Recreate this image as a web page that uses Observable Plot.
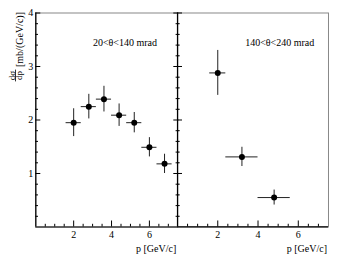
<!DOCTYPE html>
<html>
<head>
<meta charset="utf-8">
<script src="https://cdn.jsdelivr.net/npm/d3@7"></script>
<script src="https://cdn.jsdelivr.net/npm/@observablehq/plot@0.6"></script>
<style>
  html, body { margin: 0; padding: 0; background: #fff; }
  #chart { position: relative; width: 339px; height: 254px; background: #fff; }
  #chart svg { position: absolute; top: 0; }
</style>
</head>
<body>
<div id="chart"></div>
<script>
// Panels
const panels = ["20<θ<140 mrad", "140<θ<240 mrad"];

// Panel 1: 20<θ<140 mrad
const p1 = [2.0, 2.8, 3.6, 4.4, 5.2, 6.0, 6.8];
const pErr1 = [0.4, 0.4, 0.4, 0.4, 0.4, 0.4, 0.4];
const sigma1 = [1.95, 2.25, 2.39, 2.09, 1.95, 1.49, 1.18];
const sigmaErr1 = [0.26, 0.23, 0.24, 0.21, 0.19, 0.18, 0.18];

// Panel 2: 140<θ<240 mrad
const p2 = [2.0, 3.2, 4.8];
const pErr2 = [0.4, 0.8, 0.8];
const sigma2 = [2.88, 1.31, 0.55];
const sigmaErr2 = [0.42, 0.18, 0.14];

// Ticks
const xMajor = [2, 4, 6];
const xMinor = [0.5, 1, 1.5, 2.5, 3, 3.5, 4.5, 5, 5.5, 6.5, 7];
const yMajor = [1, 2, 3, 4];
const yMinor = [0.2, 0.4, 0.6, 0.8, 1.2, 1.4, 1.6, 1.8, 2.2, 2.4, 2.6, 2.8, 3.2, 3.4, 3.6, 3.8];

const xLabel = "p [GeV/c]";
const yLabelNum = "dσ";
const yLabelDen = "dp";
const yLabelUnit = "[mb/(GeV/c)]";

const rows1 = p1.map((p, i) => ({p, ep: pErr1[i], s: sigma1[i], es: sigmaErr1[i]}));
const rows2 = p2.map((p, i) => ({p, ep: pErr2[i], s: sigma2[i], es: sigmaErr2[i]}));

const fracBar = {draw(ctx, l) { ctx.moveTo(0, 0); ctx.lineTo(0, -l); }};
const font = "'Liberation Serif', 'Times New Roman', serif";

function panelMarks(rows, label, labelDx) {
  return [
    Plot.frame({stroke: "#888", strokeWidth: 1}),
    Plot.ruleY([0], {stroke: "#000", strokeWidth: 1.2}),
    Plot.ruleX([0], {stroke: "#000", strokeWidth: 1.2}),
    Plot.axisY({ticks: yMajor, tickSize: -5, fill: "none", label: null}),
    Plot.axisY({ticks: yMinor, tickSize: -2.7, fill: "none", label: null}),
    Plot.axisX({ticks: xMajor, tickSize: -6, fill: "none", label: null}),
    Plot.axisX({ticks: xMinor, tickSize: -2.7, fill: "none", label: null}),
    Plot.axisX({ticks: xMajor, tickSize: 0, tickPadding: 3.5, tickFormat: d => String(d), label: null, fill: "#000"}),
    Plot.ruleX(rows, {x: "p", y1: d => d.s - d.es, y2: d => d.s + d.es, stroke: "#222", strokeWidth: 1}),
    Plot.ruleY(rows, {y: "s", x1: d => d.p - d.ep, x2: d => d.p + d.ep, stroke: "#222", strokeWidth: 1}),
    Plot.dot(rows, {x: "p", y: "s", r: 3, fill: "#000"}),
    Plot.text([label], {text: d => d, frameAnchor: "top-left", dx: labelDx, dy: 29.5, textAnchor: "middle", lineAnchor: "middle", fill: "#000"}),
    Plot.text([xLabel], {text: d => d, frameAnchor: "bottom-right", dx: -1.5, dy: 21.5, textAnchor: "end", lineAnchor: "middle", fill: "#000"})
  ];
}

const common = {
  height: 254,
  marginTop: 12.5,
  marginBottom: 27.5,
  x: {domain: [0, 7.5]},
  y: {domain: [0, 4]}
};

// Left panel
const left = Plot.plot({
  ...common,
  width: 178,
  marginLeft: 35.3,
  marginRight: 0.7,
  style: {fontFamily: font, fontSize: "10px", color: "#000", background: "transparent", overflow: "visible"},
  marks: [
    ...panelMarks(rows1, panels[0], 89.2),
    Plot.axisY({anchor: "right", ticks: yMajor, tickSize: -5, fill: "none", label: null}),
    Plot.axisY({anchor: "right", ticks: yMinor, tickSize: -2.7, fill: "none", label: null}),
    Plot.axisY({ticks: yMajor, tickSize: 0, tickPadding: 2.5, tickFormat: d => String(d), label: null, fill: "#000"}),
    Plot.text([yLabelUnit], {text: d => d, frameAnchor: "left", rotate: -90, dx: -16.5, dy: -80.5, textAnchor: "middle", lineAnchor: "middle", fill: "#000"}),
    Plot.text([yLabelNum], {text: d => d, frameAnchor: "left", rotate: -90, dx: -23.5, dy: -44.5, textAnchor: "middle", lineAnchor: "middle", fontSize: 9, fill: "#000"}),
    Plot.text([yLabelDen], {text: d => d, frameAnchor: "left", rotate: -90, dx: -17, dy: -44.5, textAnchor: "middle", lineAnchor: "middle", fontSize: 9, fill: "#000"}),
    Plot.vector([yLabelNum], {frameAnchor: "left", dx: -20.3, dy: -44.5, length: 11, rotate: 0, anchor: "middle", shape: fracBar, stroke: "#000", strokeWidth: 0.8})
  ]
});

// Right panel
const right = Plot.plot({
  ...common,
  width: 167.7,
  marginLeft: 6,
  marginRight: 10.7,
  style: {fontFamily: font, fontSize: "10px", color: "#000", background: "transparent", overflow: "visible"},
  marks: panelMarks(rows2, panels[1], 102.2)
});

left.style.left = "0px";
right.style.left = "171.3px";
const root = document.getElementById("chart");
root.appendChild(left);
root.appendChild(right);
</script>
</body>
</html>
